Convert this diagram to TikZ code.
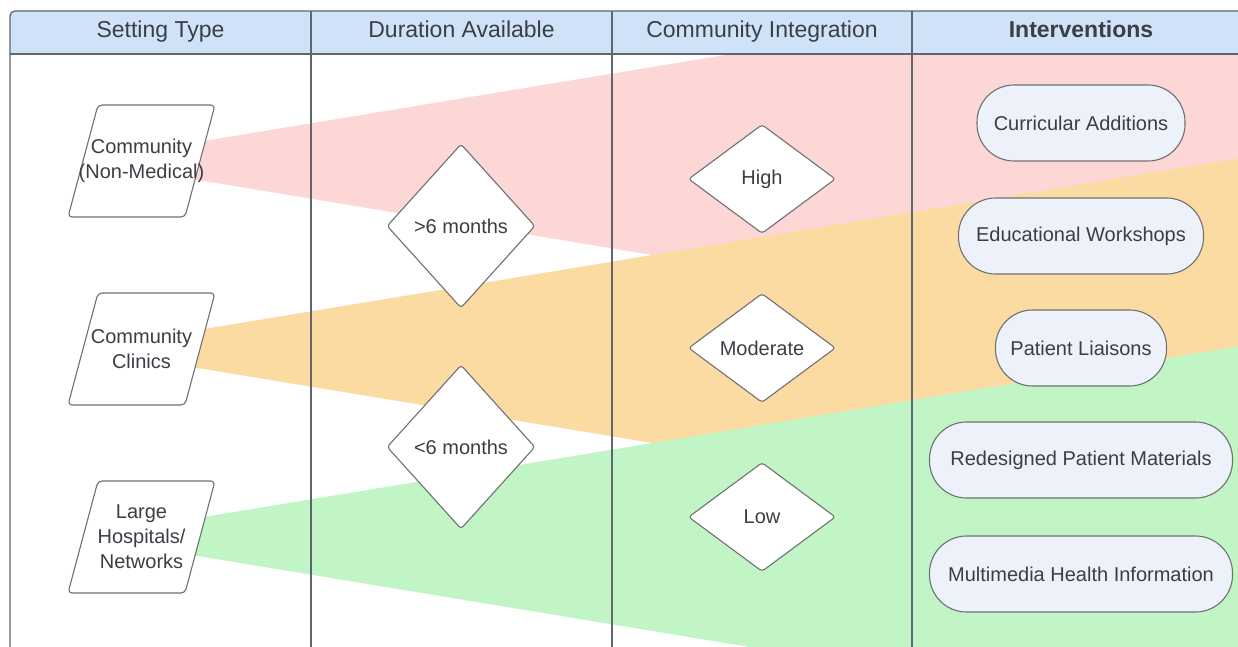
\documentclass[tikz,border=0pt]{standalone}
\usepackage{fontspec}
\setmainfont{Liberation Sans}
\usetikzlibrary{shapes.geometric,calc}

\definecolor{hdrfill}{HTML}{CFE2F8}
\definecolor{gridline}{HTML}{5F6670}
\definecolor{txt}{HTML}{3A3F46}
\definecolor{wedgeRed}{HTML}{FDD6D6}
\definecolor{wedgeOrange}{HTML}{FCDBA3}
\definecolor{wedgeGreen}{HTML}{C2F5C6}
\definecolor{pillfill}{HTML}{EDF2FA}
\definecolor{shapeline}{HTML}{6E7073}

\pgfdeclarelayer{wedges}
\pgfdeclarelayer{grid}
\pgfdeclarelayer{outlines}
\pgfsetlayers{wedges,grid,outlines,main}

\tikzset{
  gridstroke/.style={draw=gridline, line width=1.3},
  hdrtext/.style={text=txt, font=\fontsize{23}{28}\selectfont, anchor=base},
  bodytext/.style={text=txt, font=\fontsize{20}{25}\selectfont, align=center},
  setting/.style={rectangle, minimum width=117, minimum height=112, inner sep=0, bodytext},
  settingshape/.style={draw=shapeline, fill=white, line width=1.1, rounded corners=4},
  duration/.style={diamond, minimum width=148, minimum height=164, inner sep=0,
    draw=shapeline, fill=white, line width=1.1, rounded corners=3, bodytext},
  integration/.style={diamond, minimum width=147, minimum height=109, inner sep=0,
    draw=shapeline, fill=white, line width=1.1, rounded corners=3, bodytext},
  pill/.style={rectangle, rounded corners=37, minimum height=76, inner sep=0,
    draw=shapeline, fill=pillfill, line width=1.1, bodytext},
}

\begin{document}
\begin{tikzpicture}[x=1pt,y=-1pt]
\useasboundingbox (0,0) rectangle (1238,647);

% setting types (text nodes; slanted outlines drawn below)
\node[setting] (s1) at (141.5,161) {Community\\(Non-Medical)};
\node[setting] (s2) at (141.5,349) {Community\\Clinics};
\node[setting] (s3) at (141.5,537) {Large\\Hospitals/\\Networks};

% duration available
\node[duration] (d1) at (461,226) {>6 months};
\node[duration] (d2) at (461,447) {<6 months};

% community integration
\node[integration] (i1) at (762,179) {High};
\node[integration] (i2) at (762,348) {Moderate};
\node[integration] (i3) at (762,517) {Low};

% interventions
\node[pill, minimum width=208] (v1) at (1081,123) {Curricular Additions};
\node[pill, minimum width=245] (v2) at (1081,236) {Educational Workshops};
\node[pill, minimum width=171] (v3) at (1081,348) {Patient Liaisons};
\node[pill, minimum width=303] (v4) at (1081,460) {Redesigned Patient Materials};
\node[pill, minimum width=303] (v5) at (1081,574) {Multimedia Health Information};

% parallelogram outlines of the setting types
\begin{pgfonlayer}{outlines}
  \foreach \s in {s1,s2,s3}{
    \draw[settingshape] ($(\s)+(-43.5,-56)$) -- ($(\s)+(73.5,-56)$)
      -- ($(\s)+(43.5,56)$) -- ($(\s)+(-73.5,56)$) -- cycle;
  }
\end{pgfonlayer}

% fans spreading from each setting type
\begin{pgfonlayer}{wedges}
  \fill[white] (0,0) rectangle (1238,647);
  \begin{scope}
    \clip (10,54) rectangle (1238,647);
    \foreach \s/\c in {s1/wedgeRed, s2/wedgeOrange, s3/wedgeGreen}{
      \fill[\c] ($(\s)+(48.5,-17.7)$) -- ($(\s)+(1096.5,-190.6)$)
        -- ($(\s)+(1096.5,190.6)$) -- ($(\s)+(48.5,17.7)$) -- cycle;
    }
  \end{scope}
\end{pgfonlayer}

% table frame and header row
\begin{pgfonlayer}{grid}
  \fill[hdrfill] (10,54) -- (10,16) arc[start angle=180, end angle=270, radius=5]
    -- (1238,11) -- (1238,54) -- cycle;
  \draw[gridstroke] (10,647) -- (10,16) arc[start angle=180, end angle=270, radius=5]
    -- (1238,11);
  \draw[gridstroke] (10,54) -- (1238,54);
  \draw[gridstroke] (311,11) -- (311,647);
  \draw[gridstroke] (612,11) -- (612,647);
  \draw[gridstroke] (912,11) -- (912,647);
  \node[hdrtext] (h1) at (160.5,38) {Setting Type};
  \node[hdrtext] (h2) at (461.5,38) {Duration Available};
  \node[hdrtext] (h3) at (762,38) {Community Integration};
  \node[hdrtext, font=\fontsize{23}{28}\selectfont\bfseries] (h4) at (1081,38) {Interventions};
\end{pgfonlayer}
\end{tikzpicture}
\end{document}
